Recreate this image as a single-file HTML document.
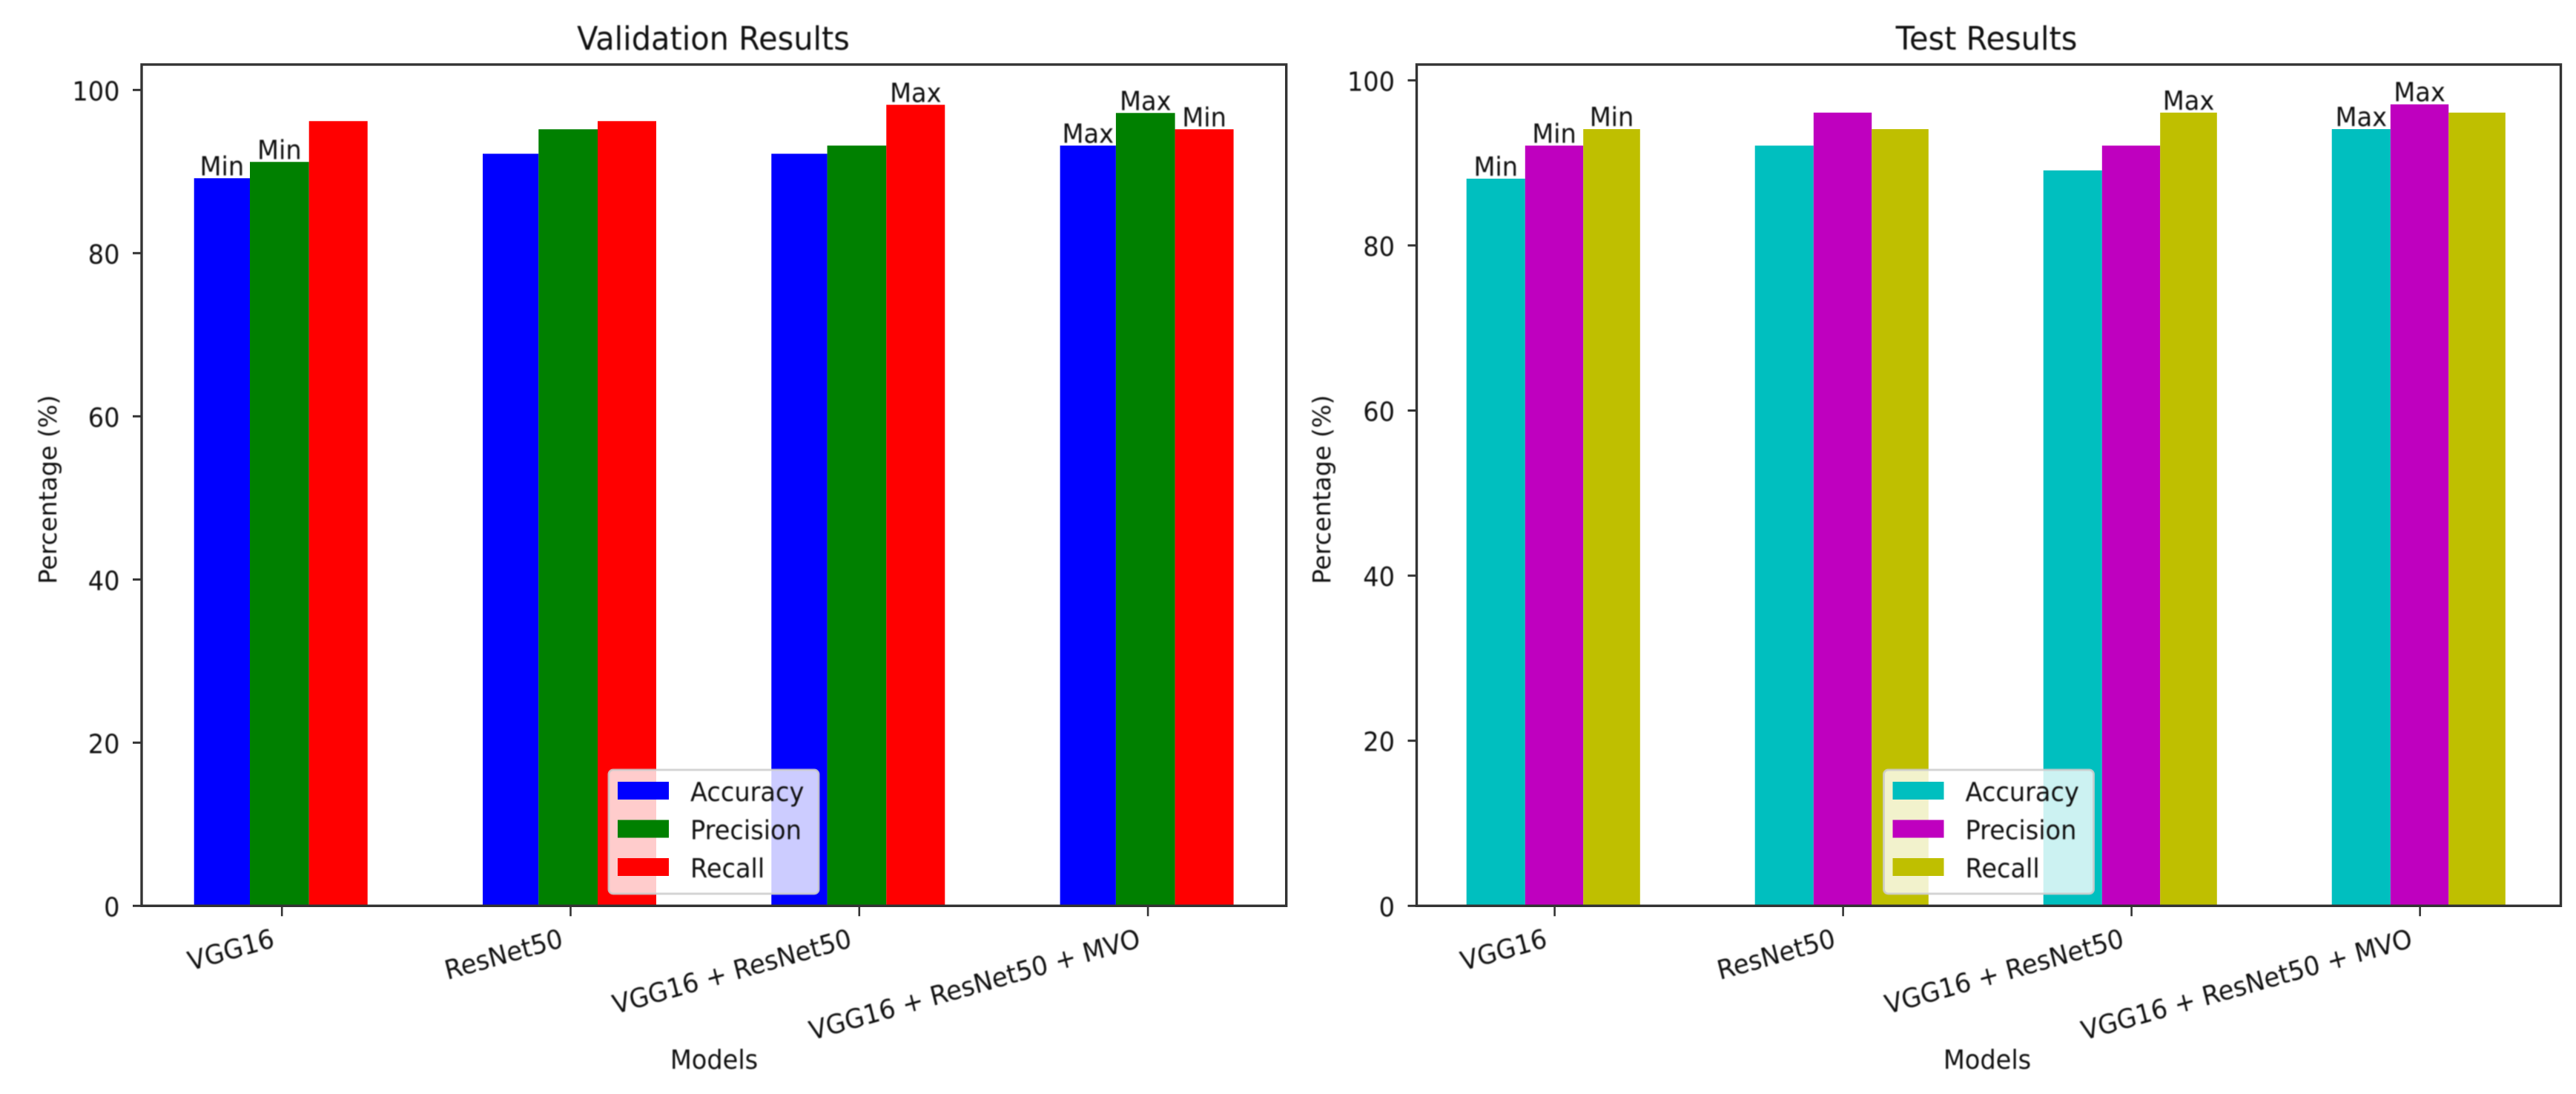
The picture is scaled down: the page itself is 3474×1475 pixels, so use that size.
<!DOCTYPE html>
<html lang="en">
<head>
<meta charset="utf-8">
<title>Validation and Test Results</title>
<style>
html,body{margin:0;padding:0;background:#fff;}
svg{display:block;}
text{font-family:"DejaVu Sans","Liberation Sans",sans-serif;fill:#111;filter:blur(0.7px);}
</style>
</head>
<body>
<svg id="chart" xmlns="http://www.w3.org/2000/svg" width="3474" height="1475" viewBox="0 0 3474 1475">
  <rect x="0" y="0" width="3474" height="1475" fill="#ffffff"></rect>
</svg>
<script>
const categories = ["VGG16", "ResNet50", "VGG16 + ResNet50", "VGG16 + ResNet50 + MVO"];
const seriesNames = ["Accuracy", "Precision", "Recall"];
const yTickLabels = [0, 20, 40, 60, 80, 100];

const validationAccuracy = [89, 92, 92, 93];
const validationPrecision = [91, 95, 93, 97];
const validationRecall = [96, 96, 98, 95];
const validationAccuracyNotes = ["Min", null, null, "Max"];
const validationPrecisionNotes = ["Min", null, null, "Max"];
const validationRecallNotes = [null, null, "Max", "Min"];

const testAccuracy = [88, 92, 89, 94];
const testPrecision = [92, 96, 92, 97];
const testRecall = [94, 94, 96, 96];
const testAccuracyNotes = ["Min", null, null, "Max"];
const testPrecisionNotes = ["Min", null, null, "Max"];
const testRecallNotes = ["Min", null, "Max", null];

const SVG_NS = "http://www.w3.org/2000/svg";
const root = document.getElementById("chart");
const FONT = 33.6;
const X_LABEL_FONT = 33.9;
const Y_LABEL_FONT = 33;
const STRETCH = 1.06;

function makeShape(tag, attrs, name) {
  const el = document.createElementNS(SVG_NS, tag);
  for (const k in attrs) el.setAttribute(k, attrs[k]);
  
  
  root.appendChild(el);
  return el;
}

function makeText(str, x, y, size, anchor, inner, name) {
  const el = document.createElementNS(SVG_NS, "text");
  el.textContent = str;
  el.setAttribute("font-size", size);
  el.setAttribute("text-anchor", anchor);
  el.setAttribute("transform", "translate(" + x + "," + y + ") scale(1," + STRETCH + ")" + inner);
  
  
  root.appendChild(el);
  return el;
}

function drawPanel(cfg) {
  const xScale = function (i) { return cfg.firstTick + cfg.tickStep * i; };
  const yScale = function (v) { return cfg.baseY - v * cfg.unit; };
  const prefix = cfg.prefix;
  const edges = cfg.edges;

  cfg.series.forEach(function (values, s) {
    values.forEach(function (v, i) {
      const x = xScale(i) + edges[s];
      const w = edges[s + 1] - edges[s];
      const top = yScale(v) - cfg.barNudge;
      makeShape("rect", { x: x, y: top, width: w, height: cfg.baseY - top, fill: cfg.colors[s] },
        prefix + "-bar-" + seriesNames[s].toLowerCase() + "-" + (i + 1));
    });
  });

  cfg.notes.forEach(function (list, s) {
    list.forEach(function (note, i) {
      if (!note) return;
      const cx = xScale(i) + (edges[s] + edges[s + 1]) / 2;
      const by = yScale(cfg.series[s][i]) - cfg.barNudge - 4;
      makeText(note, cx, by, FONT, "middle", "",
        prefix + "-annotation-" + note.toLowerCase() + "-" + seriesNames[s].toLowerCase() + "-" + (i + 1));
    });
  });

  makeShape("rect", { x: cfg.left, y: cfg.top, width: cfg.right - cfg.left, height: cfg.baseY - cfg.top,
    fill: "none", stroke: "#333333", "stroke-width": 3.4 }, prefix + "-axes-frame");

  yTickLabels.forEach(function (t) {
    const y = yScale(t);
    makeShape("line", { x1: cfg.left - 12, x2: cfg.left, y1: y, y2: y, stroke: "#333333", "stroke-width": 3 },
      prefix + "-y-tick-" + t);
    makeText(String(t), cfg.left - 29.5, y + 14, FONT, "end", "", prefix + "-y-tick-label-" + t);
  });

  categories.forEach(function (c, i) {
    const x = xScale(i);
    makeShape("line", { x1: x, x2: x, y1: cfg.baseY, y2: cfg.baseY + 14, stroke: "#333333", "stroke-width": 2.6 },
      prefix + "-x-tick-" + (i + 1));
    makeText(c, x - 8.5, cfg.baseY + 55, X_LABEL_FONT, "end", " rotate(-15)", prefix + "-x-tick-label-" + (i + 1));
  });

  makeText(cfg.title, cfg.titleX, 67, 41.5, "middle", "", prefix + "-title");
  makeText("Models", cfg.xLabelX, 1441, FONT, "middle", "", prefix + "-x-axis-title");
  makeText("Percentage (%)", cfg.yLabelX, 660, Y_LABEL_FONT, "middle", " scale(1,0.95) rotate(-90)", prefix + "-y-axis-title");

  const lx = cfg.legendX;
  makeShape("rect", { x: lx, y: 1038, width: 283, height: 167, rx: 6, ry: 6,
    fill: "#ffffff", "fill-opacity": 0.8, stroke: "#cccccc", "stroke-opacity": 0.85, "stroke-width": 3 },
    prefix + "-legend-box");
  seriesNames.forEach(function (n, s) {
    const sy = 1054 + s * 51.5;
    makeShape("rect", { x: lx + 12, y: sy, width: 69, height: 24, fill: cfg.colors[s] },
      prefix + "-legend-swatch-" + n.toLowerCase());
    makeText(n, lx + 110, sy + 26, FONT, "start", "", prefix + "-legend-label-" + n.toLowerCase());
  });
}

drawPanel({
  prefix: "validation",
  title: "Validation Results",
  titleX: 962,
  left: 191, right: 1734.7, top: 87, baseY: 1221.3, unit: 11.0, barNudge: 2,
  firstTick: 380.2, tickStep: 389.3,
  edges: [-118.5, -43.2, 36.5, 115.5],
  xLabelX: 963, yLabelX: 76, legendX: 821,
  colors: ["#0000ff", "#008000", "#ff0000"],
  series: [validationAccuracy, validationPrecision, validationRecall],
  notes: [validationAccuracyNotes, validationPrecisionNotes, validationRecallNotes]
});

drawPanel({
  prefix: "test",
  title: "Test Results",
  titleX: 2679,
  left: 1910.5, right: 3453.5, top: 87, baseY: 1221.3, unit: 11.13, barNudge: 1,
  firstTick: 2096.6, tickStep: 389,
  edges: [-118.9, -39.8, 38.6, 115.2],
  xLabelX: 2680, yLabelX: 1794, legendX: 2540.5,
  colors: ["#00bfbf", "#bf00bf", "#bfbf00"],
  series: [testAccuracy, testPrecision, testRecall],
  notes: [testAccuracyNotes, testPrecisionNotes, testRecallNotes]
});
</script>
</body>
</html>
